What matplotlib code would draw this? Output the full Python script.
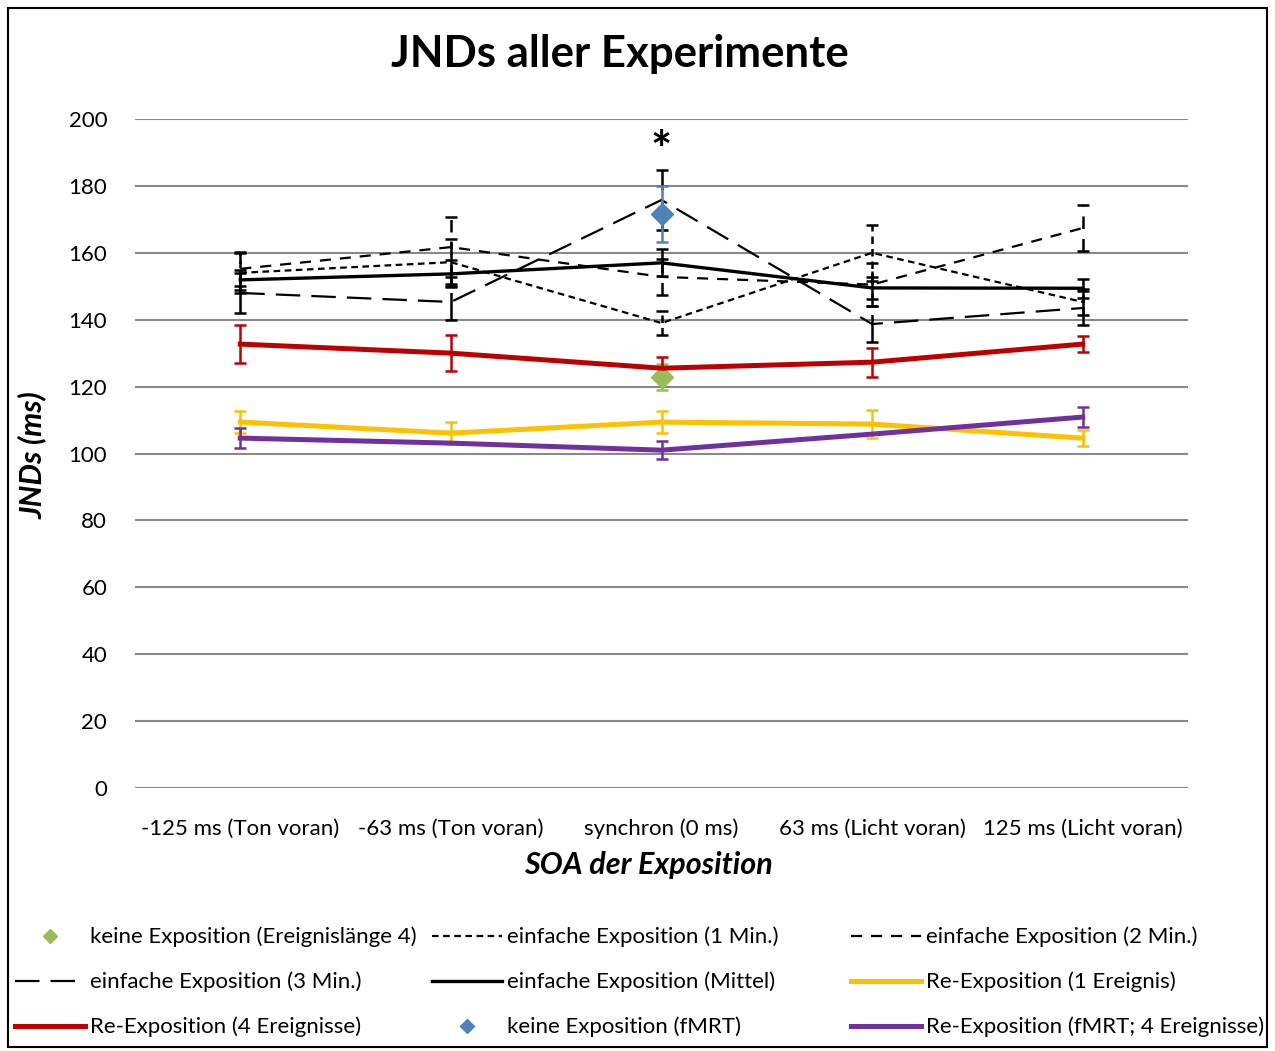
import matplotlib
matplotlib.use('Agg')
import matplotlib.pyplot as plt
from matplotlib.lines import Line2D
from matplotlib.patches import Rectangle

plt.rcParams['font.family'] = ['Lato', 'DejaVu Sans']

# categories on the x axis
cats = ['-125 ms (Ton voran)', '-63 ms (Ton voran)', 'synchron (0 ms)',
        '63 ms (Licht voran)', '125 ms (Licht voran)']
x = list(range(len(cats)))

# simple exposure (black series)
min1 = [154.0, 157.2, 139.0, 160.0, 145.3]
min1_err = [6.0, 7.0, 3.5, 8.3, 3.9]
min2 = [155.2, 161.7, 152.8, 150.5, 167.4]
min2_err = [5.0, 9.0, 5.4, 6.5, 6.9]
min3 = [148.0, 145.3, 175.8, 138.7, 143.5]
min3_err = [6.0, 5.4, 9.0, 5.4, 5.0]
mittel = [151.9, 153.7, 157.0, 149.5, 149.4]
mittel_err = [3.0, 4.0, 4.0, 3.3, 2.8]

# re-exposure
re1 = [109.4, 106.1, 109.4, 108.8, 104.6]
re1_err = [3.3, 3.3, 3.4, 4.2, 2.5]
re4 = [132.7, 130.0, 125.5, 127.3, 132.7]
re4_err = [5.6, 5.4, 3.3, 4.3, 2.4]
refmri = [104.6, 103.1, 101.0, 105.8, 110.9]
refmri_err = [3.0, 0.0, 2.7, 0.0, 3.0]

# no exposure (single points at synchron)
keine4 = 122.9
keine4_err = 4.0
keinefmri = 171.6
keinefmri_err = 8.5

red = '#C00000'
yellow = '#FFC000'
purple = '#7030A0'
green = '#9BBB59'
blue = '#4F81BD'

fig = plt.figure(figsize=(12.75, 10.51), dpi=100)
ax = fig.add_axes([135/1275, 1-788/1051, (1188-135)/1275, (788-119)/1051])

def series(y, err, color, lw, dashes=None, elw=1.8):
    eb = ax.errorbar(x, y, yerr=err, color=color, lw=lw, capsize=4.5,
                     capthick=elw, elinewidth=elw, zorder=3)
    if dashes is not None:
        eb[0].set_dashes(dashes)
        eb[2][0].set_linestyle((0, dashes))
    return eb

ax.errorbar([2], [keine4], yerr=[keine4_err], color=green, marker='D', ms=11,
            capsize=4.5, capthick=1.8, elinewidth=1.8, ls='none', zorder=3)
series(min1, min1_err, 'black', 1.6, (3, 2))
series(min2, min2_err, 'black', 1.6, (5, 4))
series(min3, min3_err, 'black', 1.6, (11, 5))
series(mittel, mittel_err, 'black', 2.4)
series(re1, re1_err, yellow, 3.6)
series(re4, re4_err, red, 3.6)
ax.errorbar([2], [keinefmri], yerr=[keinefmri_err], color=blue, marker='D', ms=11,
            capsize=4.5, capthick=1.8, elinewidth=1.8, ls='none', zorder=4)
series(refmri, refmri_err, purple, 3.6)

ax.set_xlim(-0.5, 4.5)
ax.set_ylim(0, 200)
ax.set_yticks(range(0, 201, 20))
ax.set_xticks(x)
ax.set_xticklabels(cats)
ax.grid(axis='y', color='#898989', lw=1.5)
ax.set_axisbelow(True)
for s in ax.spines.values():
    s.set_visible(False)
ax.tick_params(length=0, labelsize=16)
ax.tick_params(axis='x', pad=22)
ax.tick_params(axis='y', pad=20)

ax.text(2, 190, '*', ha='center', va='center', fontsize=36, fontweight='bold')

fig.text(620/1275, 1-54/1051, 'JNDs aller Experimente', ha='center', va='center',
         fontsize=31.5, fontweight='bold')
fig.text(648/1275, 1-865/1051, 'SOA der Exposition', ha='center', va='center',
         fontsize=22, fontweight='bold', style='italic')
fig.text(32/1275, 1-455/1051, 'JNDs (ms)', ha='center', va='center', rotation=90,
         fontsize=22, fontweight='bold', style='italic')

# legend entries, placed in a 3x3 grid like the original
h_keine4 = Line2D([], [], color=green, marker='D', ms=7, ls='none')
h_min1 = Line2D([], [], color='black', lw=1.6, dashes=(3, 2))
h_min2 = Line2D([], [], color='black', lw=1.6, dashes=(5, 4))
h_min3 = Line2D([], [], color='black', lw=1.6, dashes=(11, 5))
h_mittel = Line2D([], [], color='black', lw=2.4)
h_re1 = Line2D([], [], color=yellow, lw=3.6)
h_re4 = Line2D([], [], color=red, lw=3.6)
h_keinefmri = Line2D([], [], color=blue, marker='D', ms=7, ls='none')
h_refmri = Line2D([], [], color=purple, lw=3.6)

handles = [h_keine4, h_min1, h_min2, h_min3, h_mittel, h_re1, h_re4, h_keinefmri, h_refmri]
labels = ['keine Exposition (Ereignislänge 4)', 'einfache Exposition (1 Min.)',
          'einfache Exposition (2 Min.)', 'einfache Exposition (3 Min.)',
          'einfache Exposition (Mittel)', 'Re-Exposition (1 Ereignis)',
          'Re-Exposition (4 Ereignisse)', 'keine Exposition (fMRT)',
          'Re-Exposition (fMRT; 4 Ereignisse)']
col_x = [15, 432, 851]
row_y = [937, 982, 1027]
for i, (h, lab) in enumerate(zip(handles, labels)):
    r, c = divmod(i, 3)
    fig.legend([h], [lab], loc='center left',
               bbox_to_anchor=(col_x[c]/1275, 1-row_y[r]/1051),
               frameon=False, fontsize=16, handlelength=3.15, handletextpad=0.22,
               borderpad=0, borderaxespad=0)

fig.patches.append(Rectangle((8/1275, 4/1051), 1259/1275, 1039/1051, transform=fig.transFigure,
                             fill=False, ec='black', lw=1.5))

fig.savefig('out.png', dpi=100)
